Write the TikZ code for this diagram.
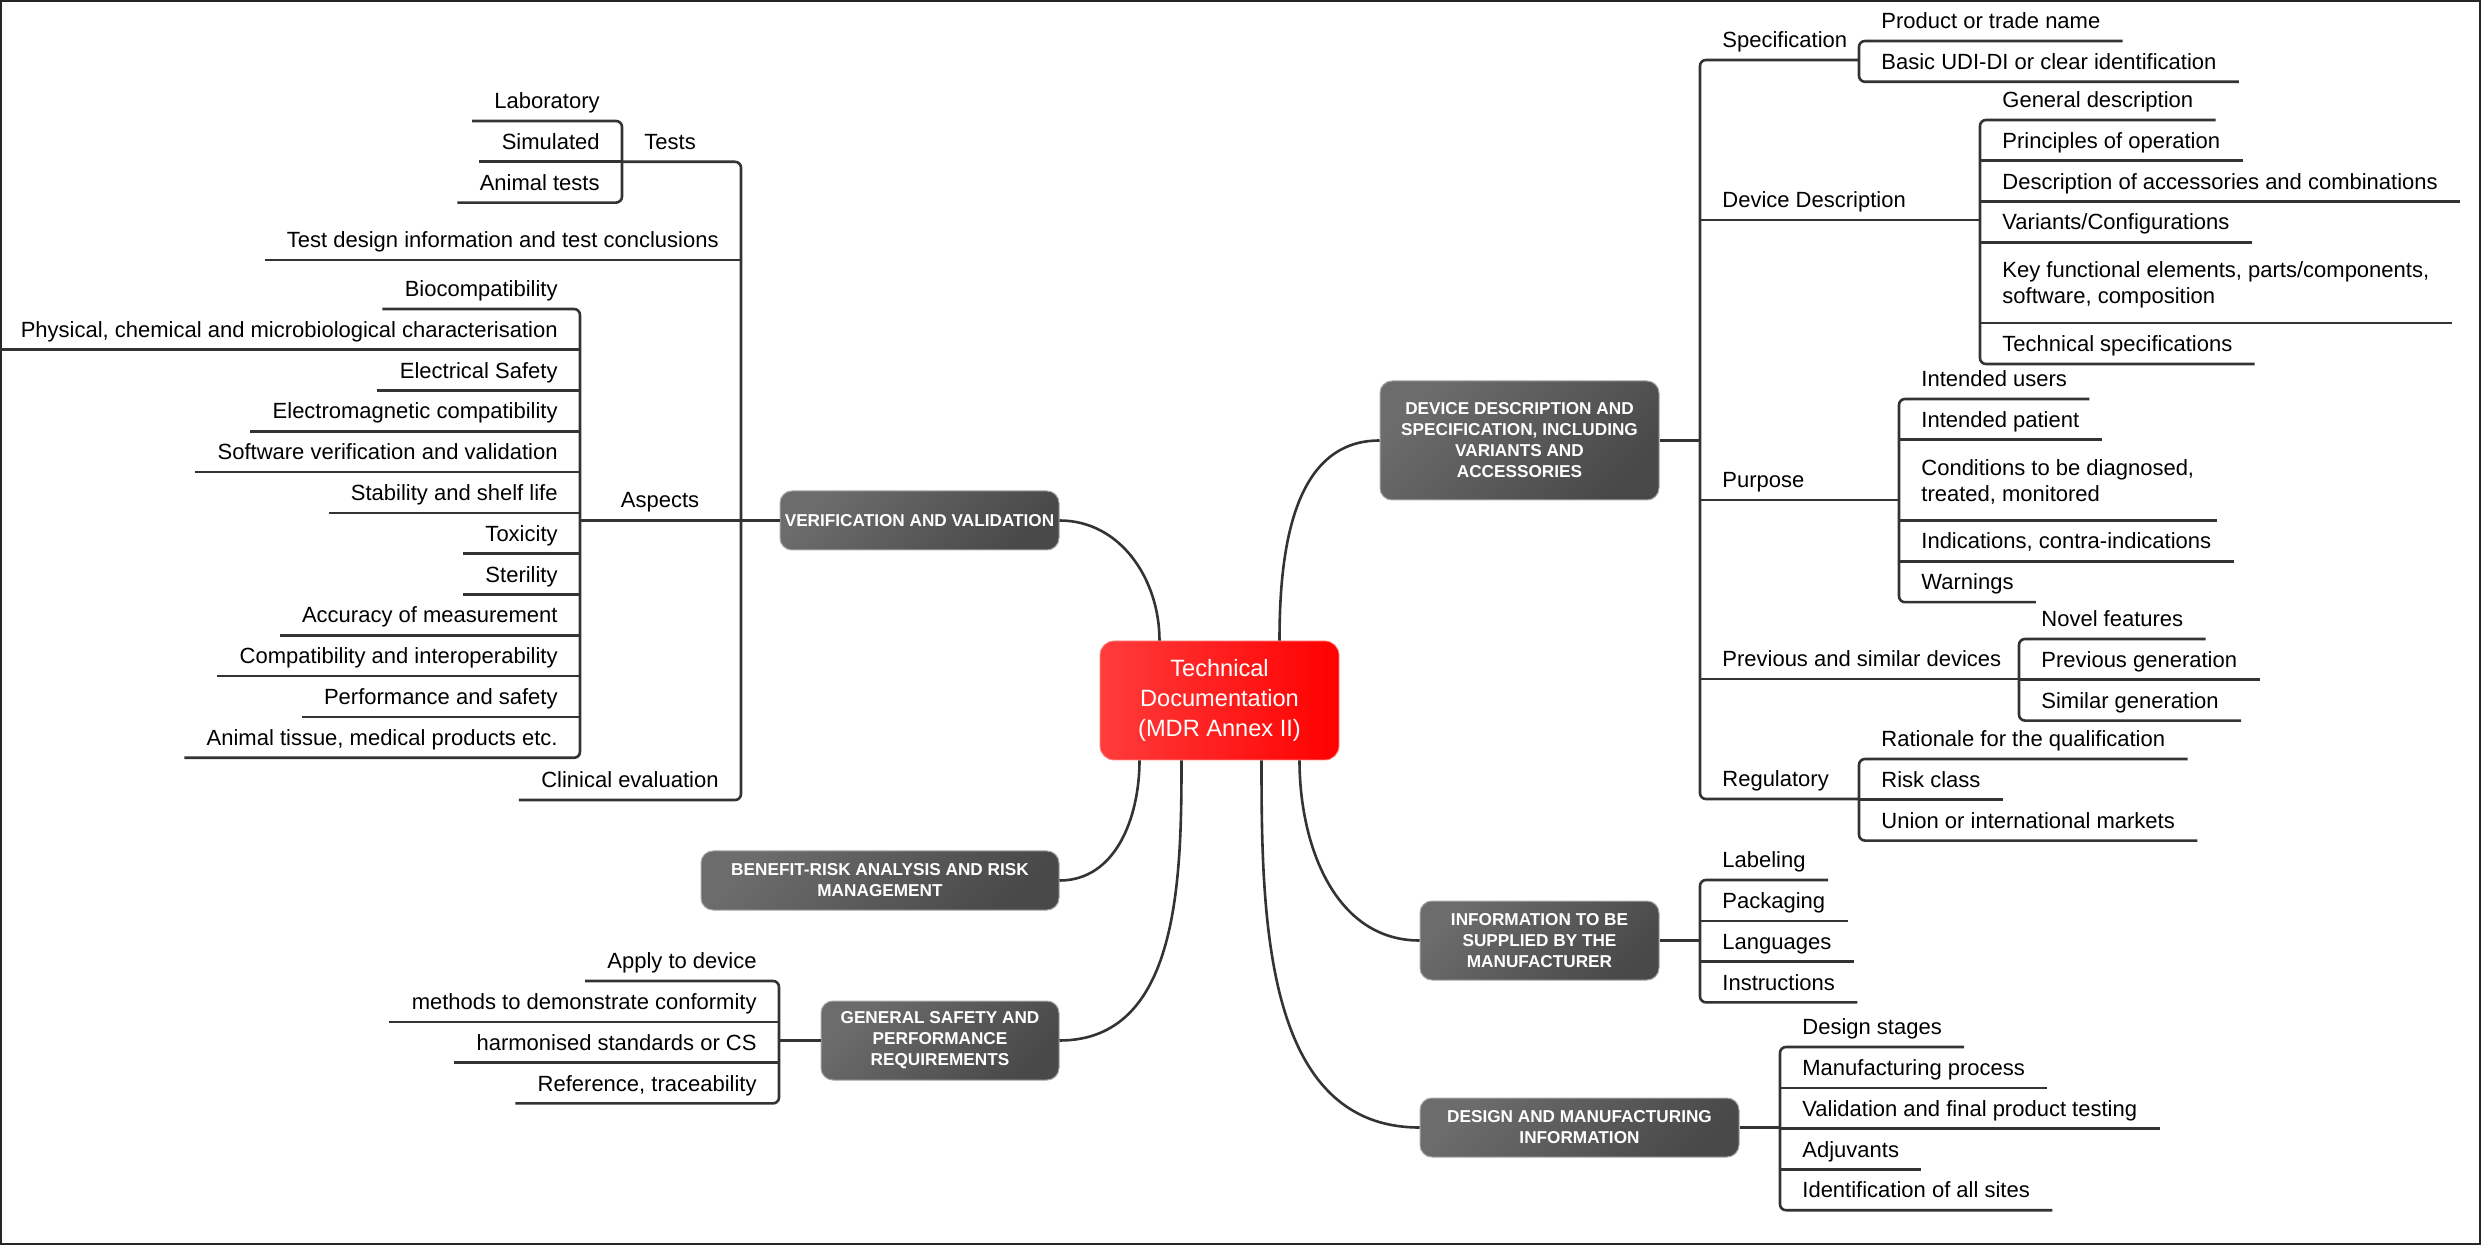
\documentclass[tikz,border=0pt]{standalone}
\usepackage{fontspec}
\setmainfont{Liberation Sans}
\usepackage{xcolor}
\usetikzlibrary{positioning}
\definecolor{linegray}{HTML}{333333}
\definecolor{topicA}{HTML}{6C6C6C}
\definecolor{topicB}{HTML}{494949}
\definecolor{rootA}{HTML}{FF3C3C}
\definecolor{rootB}{HTML}{FF0000}

\begin{document}
\begin{tikzpicture}
	[x=0.5pt, y=-0.5pt,
		% STYLES
		% The root style is used for the central topic
		root/.style={rectangle, rounded corners=7pt, draw=rootA!60!white, left color=rootA,
				right color=rootB, text=white, align=center, inner sep=0pt, minimum width=119.5pt,
				minimum height=59.5pt, font=\fontsize{11.8pt}{15pt}\selectfont},
		% The topic style is used for the main branches
		topic/.style={rectangle, rounded corners=6pt, draw=black!35, line width=0.5pt,
				top color=topicA, bottom color=topicB, shading angle=45, text=white,
				align=center, inner sep=0pt, font=\bfseries\fontsize{8.6pt}{10.5pt}\selectfont},
		% The leaf style is used for the underlined texts
		leaf/.style={inner xsep=11pt, inner ysep=0pt, minimum height=20pt, text height=8pt,
				text depth=0pt, font=\fontsize{11pt}{13pt}\selectfont},
		twoline/.style={align=left, minimum height=40pt, text height=21pt, text depth=0pt},
		conn/.style={draw=linegray, line width=1.3pt},
		fork/.style={conn, rounded corners=3pt}]

	\useasboundingbox (0,0) rectangle (2481,1245);
	\draw [black!85, line width=1pt] (1,1) rectangle (2480,1244);

	% Draw root and topics
	\node [root] (td) at (1219.5,700.5) {Technical\\Documentation\\(MDR Annex II)};
	\node [topic, minimum width=139.5pt, minimum height=59.5pt] (dev) at (1519.5,440.5)
		{DEVICE DESCRIPTION AND\\SPECIFICATION, INCLUDING\\VARIANTS AND\\ACCESSORIES};
	\node [topic, minimum width=119.5pt, minimum height=39.5pt] (info) at (1539.5,940.5)
		{INFORMATION TO BE\\SUPPLIED BY THE\\MANUFACTURER};
	\node [topic, minimum width=159.5pt, minimum height=29.5pt] (des) at (1579.5,1127.5)
		{DESIGN AND MANUFACTURING\\INFORMATION};
	\node [topic, minimum width=139.5pt, minimum height=29.5pt] (vv) at (919.5,520.5)
		{VERIFICATION AND VALIDATION};
	\node [topic, minimum width=179pt, minimum height=29.5pt] (br) at (880,880.5)
		{BENEFIT-RISK ANALYSIS AND RISK\\MANAGEMENT};
	\node [topic, minimum width=119pt, minimum height=39.5pt] (gs) at (940,1040.5)
		{GENERAL SAFETY AND\\PERFORMANCE\\REQUIREMENTS};

	% Device description branch
	\node [leaf, anchor=south west] (spec) at (1700,60) {Specification};
	\node [leaf, anchor=south west] (dd) at (1700,220) {Device Description};
	\node [leaf, anchor=south west] (pur) at (1700,500) {Purpose};
	\node [leaf, anchor=south west] (prev) at (1700,679) {Previous and similar devices};
	\node [leaf, anchor=south west] (reg) at (1700,799) {Regulatory};

	\node [leaf, anchor=south west] (prod) at (1859,41) {Product or trade name};
	\node [leaf, below right=0pt and 0pt of prod.south west] (udi) {Basic UDI-DI or clear identification};

	\node [leaf, anchor=south west] (gen) at (1980,120) {General description};
	\node [leaf, below right=0pt and 0pt of gen.south west] (prin) {Principles of operation};
	\node [leaf, below right=0pt and 0pt of prin.south west] (acc) {Description of accessories and combinations};
	\node [leaf, below right=0pt and 0pt of acc.south west] (var) {Variants/Configurations};
	\node [leaf, twoline, below right=0pt and 0pt of var.south west] (key)
		{Key functional elements, parts/components,\\software, composition};
	\node [leaf, below right=0pt and 0pt of key.south west] (tech) {Technical specifications};

	\node [leaf, anchor=south west] (usr) at (1899,399) {Intended users};
	\node [leaf, below right=0pt and 0pt of usr.south west] (pat) {Intended patient};
	\node [leaf, twoline, below right=0pt and 0pt of pat.south west] (cond)
		{Conditions to be diagnosed,\\treated, monitored};
	\node [leaf, below right=0pt and 0pt of cond.south west] (ind) {Indications, contra-indications};
	\node [leaf, below right=0pt and 0pt of ind.south west] (warn) {Warnings};

	\node [leaf, anchor=south west] (nov) at (2019,639) {Novel features};
	\node [leaf, below right=0pt and 0pt of nov.south west] (pgen) {Previous generation};
	\node [leaf, below right=0pt and 0pt of pgen.south west] (sgen) {Similar generation};

	\node [leaf, anchor=south west] (rat) at (1859,759) {Rationale for the qualification};
	\node [leaf, below right=0pt and 0pt of rat.south west] (risk) {Risk class};
	\node [leaf, below right=0pt and 0pt of risk.south west] (mkt) {Union or international markets};

	% Information and design branches
	\node [leaf, anchor=south west] (lbl) at (1700,880) {Labeling};
	\node [leaf, below right=0pt and 0pt of lbl.south west] (pack) {Packaging};
	\node [leaf, below right=0pt and 0pt of pack.south west] (lang) {Languages};
	\node [leaf, below right=0pt and 0pt of lang.south west] (instr) {Instructions};

	\node [leaf, anchor=south west] (dst) at (1780,1047) {Design stages};
	\node [leaf, below right=0pt and 0pt of dst.south west] (mfg) {Manufacturing process};
	\node [leaf, below right=0pt and 0pt of mfg.south west] (valt) {Validation and final product testing};
	\node [leaf, below right=0pt and 0pt of valt.south west] (adj) {Adjuvants};
	\node [leaf, below right=0pt and 0pt of adj.south west] (sites) {Identification of all sites};

	% Verification branch
	\node [leaf, anchor=south east] (lab) at (622,121) {Laboratory};
	\node [leaf, below left=0pt and 0pt of lab.south east] (sim) {Simulated};
	\node [leaf, below left=0pt and 0pt of sim.south east] (ani) {Animal tests};
	\node [leaf, above right=0pt and 0pt of sim.south east] (tests) {Tests};
	\node [leaf, anchor=south east] (tdi) at (741,260) {Test design information and test conclusions};

	\node [leaf, anchor=south east] (bio) at (580,309) {Biocompatibility};
	\node [leaf, below left=0pt and 0pt of bio.south east] (phys) {Physical, chemical and microbiological characterisation};
	\node [leaf, below left=0pt and 0pt of phys.south east] (elec) {Electrical Safety};
	\node [leaf, below left=0pt and 0pt of elec.south east] (emc) {Electromagnetic compatibility};
	\node [leaf, below left=0pt and 0pt of emc.south east] (sw) {Software verification and validation};
	\node [leaf, below left=0pt and 0pt of sw.south east] (stab) {Stability and shelf life};
	\node [leaf, below left=0pt and 0pt of stab.south east] (tox) {Toxicity};
	\node [leaf, below left=0pt and 0pt of tox.south east] (ster) {Sterility};
	\node [leaf, below left=0pt and 0pt of ster.south east] (accm) {Accuracy of measurement};
	\node [leaf, below left=0pt and 0pt of accm.south east] (comp) {Compatibility and interoperability};
	\node [leaf, below left=0pt and 0pt of comp.south east] (perf) {Performance and safety};
	\node [leaf, below left=0pt and 0pt of perf.south east] (anim) {Animal tissue, medical products etc.};
	\node [leaf, anchor=south] (asp) at (660,520) {Aspects};
	\node [leaf, anchor=south east] (clin) at (741,800) {Clinical evaluation};

	% Safety branch
	\node [leaf, anchor=south east] (app) at (779,981) {Apply to device};
	\node [leaf, below left=0pt and 0pt of app.south east] (meth) {methods to demonstrate conformity};
	\node [leaf, below left=0pt and 0pt of meth.south east] (harm) {harmonised standards or CS};
	\node [leaf, below left=0pt and 0pt of harm.south east] (trace) {Reference, traceability};

	% Connect root to topics
	\path [conn]
	([xshift=30pt]td.north) edge [out=90, in=180] (dev.west)
	([xshift=-30pt]td.north) edge [out=90, in=0] (vv.east)
	([xshift=-40pt]td.south) edge [out=-90, in=0] (br.east)
	([xshift=-19pt]td.south) edge [out=-90, in=0] (gs.east)
	([xshift=21pt]td.south) edge [out=-90, in=180] (des.west)
	([xshift=40pt]td.south) edge [out=-90, in=180] (info.west);

	% Forks
	\draw [fork] (spec.south west -| prod.south west) -- (spec.south west) -- (reg.south west)
		-- (reg.south west -| rat.south west);
	\draw [fork] (prod.south east) -- (prod.south west) -- (udi.south west) -- (udi.south east);
	\draw [fork] (gen.south east) -- (gen.south west) -- (tech.south west) -- (tech.south east);
	\draw [fork] (usr.south east) -- (usr.south west) -- (warn.south west) -- (warn.south east);
	\draw [fork] (nov.south east) -- (nov.south west) -- (sgen.south west) -- (sgen.south east);
	\draw [fork] (rat.south east) -- (rat.south west) -- (mkt.south west) -- (mkt.south east);
	\draw [fork] (lbl.south east) -- (lbl.south west) -- (instr.south west) -- (instr.south east);
	\draw [fork] (dst.south east) -- (dst.south west) -- (sites.south west) -- (sites.south east);
	\draw [fork] (sim.south east) -- (sim.south east -| tdi.south east) -- (clin.south east)
		-- (clin.south west);
	\draw [fork] (lab.south west) -- (lab.south east) -- (ani.south east) -- (ani.south west);
	\draw [fork] (bio.south west) -- (bio.south east) -- (anim.south east) -- (anim.south west);
	\draw [fork] (app.south west) -- (app.south east) -- (trace.south east) -- (trace.south west);

	% Underlines
	\path [conn]
	(dev.east) edge (dev.east -| spec.south west)
	(dd.south west) edge (dd.south west -| gen.south west)
	(pur.south west) edge (pur.south west -| usr.south west)
	(prev.south west) edge (prev.south west -| nov.south west)
	(info.east) edge (info.east -| lbl.south west)
	(des.east) edge (des.east -| dst.south west)
	(vv.west) edge (vv.west -| bio.south east)
	(gs.west) edge (gs.west -| app.south east)
	(tdi.south west) edge (tdi.south east)
	(sim.south west) edge (sim.south east)
	(prin.south west) edge (prin.south east)
	(acc.south west) edge (acc.south east)
	(var.south west) edge (var.south east)
	(key.south west) edge (key.south east)
	(pat.south west) edge (pat.south east)
	(cond.south west) edge (cond.south east)
	(ind.south west) edge (ind.south east)
	(pgen.south west) edge (pgen.south east)
	(risk.south west) edge (risk.south east)
	(pack.south west) edge (pack.south east)
	(lang.south west) edge (lang.south east)
	(mfg.south west) edge (mfg.south east)
	(valt.south west) edge (valt.south east)
	(adj.south west) edge (adj.south east)
	(phys.south west) edge (phys.south east)
	(elec.south west) edge (elec.south east)
	(emc.south west) edge (emc.south east)
	(sw.south west) edge (sw.south east)
	(stab.south west) edge (stab.south east)
	(tox.south west) edge (tox.south east)
	(ster.south west) edge (ster.south east)
	(accm.south west) edge (accm.south east)
	(comp.south west) edge (comp.south east)
	(perf.south west) edge (perf.south east)
	(meth.south west) edge (meth.south east)
	(harm.south west) edge (harm.south east);
\end{tikzpicture}
\end{document}
